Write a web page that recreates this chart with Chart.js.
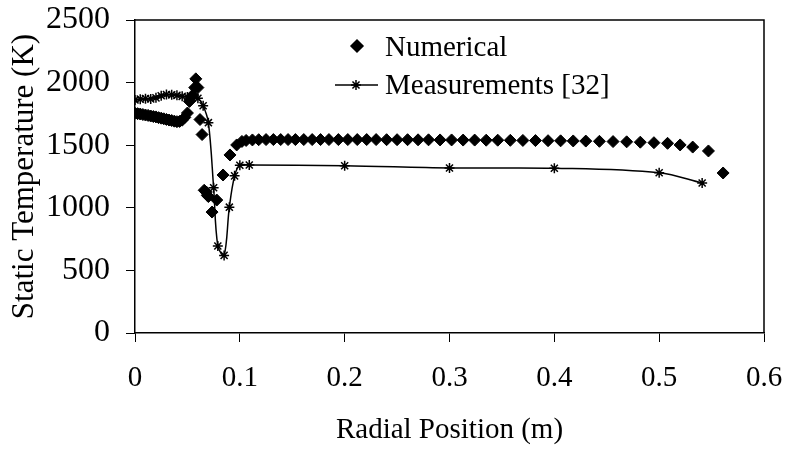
<!DOCTYPE html>
<html>
<head>
<meta charset="utf-8">
<script src="https://cdn.jsdelivr.net/npm/chart.js@4.4.1/dist/chart.umd.min.js"></script>
<style>
    html, body { margin: 0; padding: 0; background: #fff; }
    #wrap { width: 788px; height: 454px; }
</style>
</head>
<body>
<div id="wrap"><canvas id="tempChart" width="788" height="454"></canvas></div>
<script>
// Numerical (diamonds)
const numericalX = [
    0, 0.0025, 0.005, 0.0075, 0.01, 0.0125, 0.015, 0.0175, 0.02, 0.0225,
    0.025, 0.0275, 0.03, 0.0325, 0.035, 0.0375, 0.04, 0.0425, 0.045, 0.0475,
    0.05, 0.052, 0.055, 0.057, 0.058, 0.06, 0.062, 0.064, 0.066, 0.068,
    0.069, 0.07, 0.0735, 0.078, 0.084, 0.0906, 0.097,
    0.102, 0.106, 0.112, 0.118, 0.125, 0.132, 0.139, 0.146, 0.153, 0.161,
    0.169, 0.177, 0.185, 0.194, 0.203, 0.212, 0.221, 0.230, 0.240, 0.250,
    0.260, 0.270, 0.280, 0.291, 0.302, 0.313, 0.324, 0.335, 0.346, 0.358,
    0.370, 0.382, 0.394, 0.406, 0.418, 0.430, 0.443, 0.456, 0.469, 0.482,
    0.495, 0.508, 0.520, 0.532, 0.547, 0.561
];
const numericalT = [
    1755, 1752, 1749, 1745, 1741, 1738, 1733, 1729, 1726, 1720,
    1716, 1711, 1706, 1701, 1697, 1692, 1688, 1690, 1700, 1722,
    1757, 1850, 1900, 1960, 2030, 1960, 1705, 1585, 1140, 1126,
    1100, 1090, 966, 1062, 1262, 1422, 1502,
    1530, 1538, 1542, 1544, 1545, 1545, 1545, 1545, 1545, 1545,
    1545, 1545, 1545, 1545, 1545, 1545, 1545, 1545, 1544, 1544,
    1544, 1543, 1543, 1542, 1542, 1541, 1541, 1540, 1540, 1539,
    1538, 1537, 1536, 1535, 1534, 1533, 1531, 1529, 1527, 1524,
    1520, 1515, 1502, 1485, 1454, 1278
];

// Measurements [32] (asterisks, smoothed line)
const measuredX = [
    0, 0.005, 0.01, 0.015, 0.02, 0.025, 0.03, 0.035, 0.04, 0.045,
    0.05, 0.055, 0.06, 0.065, 0.07, 0.075, 0.079, 0.085, 0.09, 0.095,
    0.1, 0.109, 0.2, 0.3, 0.4, 0.5, 0.541
];
const measuredT = [
    1862, 1868, 1872, 1870, 1878, 1895, 1905, 1902, 1898, 1890,
    1885, 1880, 1875, 1815, 1680, 1160, 695, 620, 1005, 1255,
    1340, 1342, 1336, 1318, 1316, 1280, 1198
];

const xTicks = [0, 0.1, 0.2, 0.3, 0.4, 0.5, 0.6];
const yTicks = [0, 500, 1000, 1500, 2000, 2500];

const serif = '"Liberation Serif", "Times New Roman", serif';
const fontSize = 29;

const toPoints = (xs, ys) => xs.map((x, i) => ({ x: x, y: ys[i] }));

const numericalStyle = { pointStyle: 'rectRot', radius: 6, borderWidth: 1, rotation: 0 };
const measuredStyle = { pointStyle: 'star', radius: 5, borderWidth: 1.5, rotation: 0 };

const framePlugin = {
    id: 'frameAndLegend',
    afterDraw(chart) {
        const { ctx, chartArea: a } = chart;
        ctx.save();
        ctx.strokeStyle = '#000';
        ctx.lineWidth = 1.5;
        ctx.beginPath();
        ctx.moveTo(a.left, a.top);
        ctx.lineTo(a.right, a.top);
        ctx.lineTo(a.right, a.bottom);
        ctx.stroke();

        // legend
        ctx.fillStyle = '#000';
        ctx.font = fontSize + 'px ' + serif;
        ctx.textBaseline = 'middle';
        ctx.textAlign = 'left';

        Chart.helpers.drawPoint(ctx, numericalStyle, 357, 46);
        ctx.fillStyle = '#000';
        ctx.fillText('Numerical', 385, 48);

        ctx.beginPath();
        ctx.lineWidth = 1.5;
        ctx.moveTo(335, 85);
        ctx.lineTo(378, 85);
        ctx.stroke();
        Chart.helpers.drawPoint(ctx, measuredStyle, 356, 85);
        ctx.fillText('Measurements [32]', 385, 86);
        ctx.restore();
    }
};

const ctx = document.getElementById('tempChart').getContext('2d');
new Chart(ctx, {
    type: 'scatter',
    data: {
        datasets: [
            {
                label: 'Numerical',
                data: toPoints(numericalX, numericalT),
                showLine: false,
                pointStyle: numericalStyle.pointStyle,
                pointRadius: numericalStyle.radius,
                pointBorderWidth: numericalStyle.borderWidth,
                pointBackgroundColor: '#000',
                pointBorderColor: '#000'
            },
            {
                label: 'Measurements [32]',
                data: toPoints(measuredX, measuredT),
                showLine: true,
                tension: 0.35,
                borderColor: '#000',
                borderWidth: 1.5,
                pointStyle: measuredStyle.pointStyle,
                pointRadius: measuredStyle.radius,
                pointBorderWidth: measuredStyle.borderWidth,
                pointBackgroundColor: '#000',
                pointBorderColor: '#000'
            }
        ]
    },
    options: {
        responsive: false,
        animation: false,
        devicePixelRatio: 1,
        layout: { padding: { top: 20, right: 24, left: 0, bottom: 0 } },
        plugins: {
            legend: { display: false },
            tooltip: { enabled: false }
        },
        scales: {
            x: {
                type: 'linear',
                min: 0,
                max: 0.6,
                afterBuildTicks: (scale) => { scale.ticks = xTicks.map(v => ({ value: v })); },
                afterFit: (scale) => {
                    scale.height = 121;
                    scale.paddingLeft = 0;
                    scale.paddingRight = 0;
                },
                ticks: {
                    color: '#000',
                    font: { family: serif, size: fontSize },
                    padding: 19,
                    maxRotation: 0,
                    callback: (v) => String(v)
                },
                grid: { drawOnChartArea: false, drawTicks: true, tickLength: 9, color: '#000', lineWidth: 1 },
                border: { display: true, color: '#000', width: 1.5 },
                title: {
                    display: true,
                    text: 'Radial Position (m)',
                    color: '#000',
                    font: { family: serif, size: fontSize, weight: 'normal' },
                    padding: { top: 0, bottom: 6 }
                }
            },
            y: {
                type: 'linear',
                min: 0,
                max: 2500,
                afterBuildTicks: (scale) => { scale.ticks = yTicks.map(v => ({ value: v })); },
                afterFit: (scale) => {
                    scale.width = 135;
                    scale.paddingTop = 0;
                    scale.paddingBottom = 0;
                },
                ticks: {
                    color: '#000',
                    font: { family: serif, size: 32 },
                    padding: 16,
                    callback: (v) => String(v)
                },
                grid: { drawOnChartArea: false, drawTicks: true, tickLength: 9, color: '#000', lineWidth: 1 },
                border: { display: true, color: '#000', width: 1.5 },
                title: {
                    display: true,
                    text: 'Static Temperature (K)',
                    color: '#000',
                    font: { family: serif, size: 31, weight: 'normal' },
                    padding: { top: 6, bottom: 0 }
                }
            }
        }
    },
    plugins: [framePlugin]
});
</script>
</body>
</html>
